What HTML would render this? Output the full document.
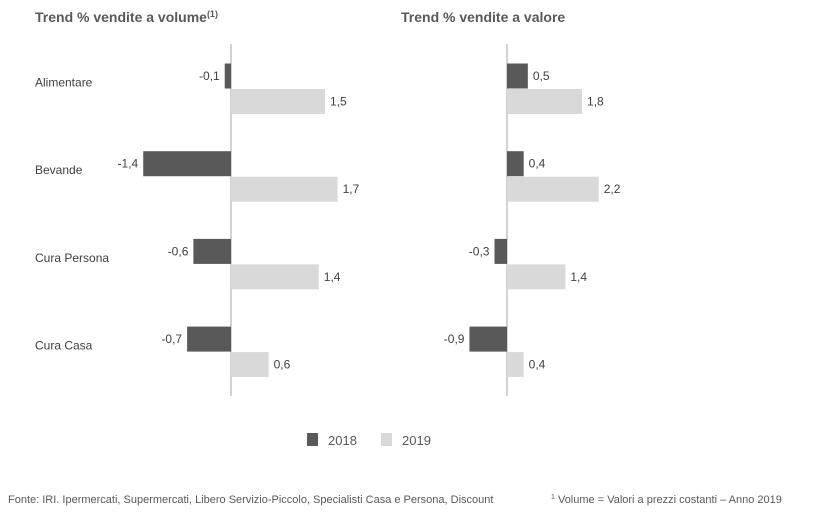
<!DOCTYPE html>
<html><head><meta charset="utf-8"><style>
body{margin:0;background:#fff;width:826px;height:515px;overflow:hidden;font-family:"Liberation Sans",Arial,sans-serif}
svg text{font-family:"Liberation Sans",Arial,sans-serif}
</style></head><body>
<svg id="chart" width="826" height="515">
<text x="35" y="22" font-size="14" font-weight="bold" fill="#595959">Trend % vendite a volume<tspan font-size="9" dy="-5">(1)</tspan></text>
<text x="401" y="22" font-size="14" font-weight="bold" fill="#595959">Trend % vendite a valore</text>
<g id="labels"></g>
<g id="bars"></g>
<rect x="307" y="433" width="11" height="13" fill="#595959"/>
<text x="328" y="445" font-size="13" fill="#595959">2018</text>
<rect x="381" y="433" width="11" height="13" fill="#d9d9d9"/>
<text x="402" y="445" font-size="13" fill="#595959">2019</text>
<text x="8" y="503" font-size="11" fill="#595959">Fonte: IRI. Ipermercati, Supermercati, Libero Servizio-Piccolo, Specialisti Casa e Persona, Discount</text>
<text x="551" y="503" font-size="11" fill="#595959"><tspan font-size="7" dy="-4">1</tspan><tspan dy="4"> Volume = Valori a prezzi costanti – Anno 2019</tspan></text>
</svg>
<script>
const categories=["Alimentare","Bevande","Cura Persona","Cura Casa"];
const volume2018=[-0.1,-1.4,-0.6,-0.7];
const volume2019=[1.5,1.7,1.4,0.6];
const value2018=[0.5,0.4,-0.3,-0.9];
const value2019=[1.8,2.2,1.4,0.4];
const NS="http://www.w3.org/2000/svg";
const svg=document.getElementById('chart');
const bars=document.getElementById('bars');
const labels=document.getElementById('labels');
function mk(t,a,p){const e=document.createElementNS(NS,t);for(const k in a)e.setAttribute(k,a[k]);(p||bars).appendChild(e);return e;}
function yBand(i){return 63.5+i*87.7;}
const panels=[{zero:231,scale:62.7,s1:volume2018,s2:volume2019,id:'volume'},{zero:507,scale:41.7,s1:value2018,s2:value2019,id:'value'}];
categories.forEach((c,i)=>{
  const t=mk('text',{x:35,y:yBand(i)+23,'font-size':12,fill:'#404040'},labels);
  
  
  t.textContent=c;
});
panels.forEach(p=>{
  const ax=mk('line',{x1:p.zero,x2:p.zero,y1:44,y2:396,stroke:'#a6a6a6','stroke-width':1});
  
  
  [p.s1,p.s2].forEach((s,k)=>{
    s.forEach((v,i)=>{
      const y=yBand(i)+k*25.5, h=25;
      const x=p.zero+v*p.scale;
      const r=mk('rect',{x:Math.min(x,p.zero),y:y,width:Math.max(Math.abs(v*p.scale),1),height:h,fill:k?'#d9d9d9':'#595959'});
      
      
      const lab=mk('text',{x:v<0?x-5:x+5,y:y+h/2+4,'font-size':12,fill:'#404040','text-anchor':v<0?'end':'start'});
      
      
      lab.textContent=v.toFixed(1).replace('.',',');
    });
  });
});
</script>
</body></html>
